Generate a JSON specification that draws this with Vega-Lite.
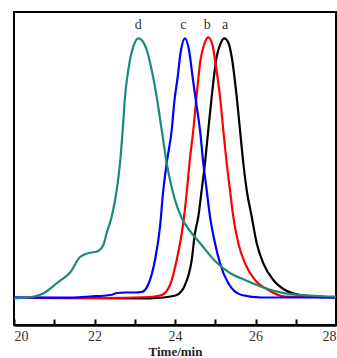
{
  "$schema": "https://vega.github.io/schema/vega-lite/v6.json",
  "width": 322,
  "height": 313,
  "autosize": "none",
  "padding": {"left": 14, "top": 12, "right": 1, "bottom": 33},
  "background": "white",
  "config": {"view": {"stroke": "black", "strokeWidth": 2}},
  "datasets": {
    "curves": [
      {"s": "a", "t": 20.000, "v": 27}, {"s": "a", "t": 23.379, "v": 26.7}, {"s": "a", "t": 23.702, "v": 27.5}, {"s": "a", "t": 24.042, "v": 30}, {"s": "a", "t": 24.248, "v": 40}, {"s": "a", "t": 24.415, "v": 65}, {"s": "a", "t": 24.497, "v": 92}, {"s": "a", "t": 24.579, "v": 108.3}, {"s": "a", "t": 24.663, "v": 135}, {"s": "a", "t": 24.745, "v": 162}, {"s": "a", "t": 24.827, "v": 195}, {"s": "a", "t": 24.912, "v": 228.3}, {"s": "a", "t": 25.036, "v": 268.3}, {"s": "a", "t": 25.118, "v": 280}, {"s": "a", "t": 25.225, "v": 286.7}, {"s": "a", "t": 25.329, "v": 282}, {"s": "a", "t": 25.408, "v": 268.3}, {"s": "a", "t": 25.533, "v": 228.3}, {"s": "a", "t": 25.615, "v": 195}, {"s": "a", "t": 25.697, "v": 162}, {"s": "a", "t": 25.781, "v": 135}, {"s": "a", "t": 25.906, "v": 108.3}, {"s": "a", "t": 26.030, "v": 81.7}, {"s": "a", "t": 26.194, "v": 61.7}, {"s": "a", "t": 26.442, "v": 45}, {"s": "a", "t": 26.733, "v": 35}, {"s": "a", "t": 27.106, "v": 30}, {"s": "a", "t": 27.603, "v": 28}, {"s": "a", "t": 28.000, "v": 27.5},
      {"s": "b", "t": 20.000, "v": 27}, {"s": "b", "t": 22.137, "v": 27}, {"s": "b", "t": 23.379, "v": 28}, {"s": "b", "t": 23.670, "v": 30}, {"s": "b", "t": 23.876, "v": 40}, {"s": "b", "t": 24.042, "v": 65}, {"s": "b", "t": 24.191, "v": 98}, {"s": "b", "t": 24.291, "v": 132}, {"s": "b", "t": 24.360, "v": 162}, {"s": "b", "t": 24.455, "v": 195}, {"s": "b", "t": 24.534, "v": 228.3}, {"s": "b", "t": 24.634, "v": 265}, {"s": "b", "t": 24.720, "v": 280}, {"s": "b", "t": 24.827, "v": 287.7}, {"s": "b", "t": 24.932, "v": 280}, {"s": "b", "t": 24.994, "v": 265}, {"s": "b", "t": 25.118, "v": 228.3}, {"s": "b", "t": 25.200, "v": 195}, {"s": "b", "t": 25.284, "v": 162}, {"s": "b", "t": 25.366, "v": 135}, {"s": "b", "t": 25.448, "v": 108.3}, {"s": "b", "t": 25.573, "v": 81.7}, {"s": "b", "t": 25.739, "v": 61.7}, {"s": "b", "t": 25.988, "v": 45}, {"s": "b", "t": 26.318, "v": 35}, {"s": "b", "t": 26.733, "v": 28.3}, {"s": "b", "t": 27.354, "v": 28}, {"s": "b", "t": 28.000, "v": 27.7},
      {"s": "c", "t": 20.000, "v": 27.7}, {"s": "c", "t": 21.242, "v": 27.3}, {"s": "c", "t": 21.888, "v": 28.5}, {"s": "c", "t": 22.402, "v": 30}, {"s": "c", "t": 22.559, "v": 32}, {"s": "c", "t": 22.758, "v": 32.5}, {"s": "c", "t": 23.006, "v": 32.5}, {"s": "c", "t": 23.173, "v": 33}, {"s": "c", "t": 23.329, "v": 40}, {"s": "c", "t": 23.503, "v": 65}, {"s": "c", "t": 23.627, "v": 98}, {"s": "c", "t": 23.702, "v": 132}, {"s": "c", "t": 23.794, "v": 162}, {"s": "c", "t": 23.918, "v": 195}, {"s": "c", "t": 23.988, "v": 225}, {"s": "c", "t": 24.057, "v": 245}, {"s": "c", "t": 24.149, "v": 275}, {"s": "c", "t": 24.248, "v": 286.7}, {"s": "c", "t": 24.348, "v": 275}, {"s": "c", "t": 24.447, "v": 245}, {"s": "c", "t": 24.534, "v": 220}, {"s": "c", "t": 24.621, "v": 195}, {"s": "c", "t": 24.703, "v": 162}, {"s": "c", "t": 24.787, "v": 135}, {"s": "c", "t": 24.870, "v": 108.3}, {"s": "c", "t": 24.994, "v": 81.7}, {"s": "c", "t": 25.118, "v": 61.7}, {"s": "c", "t": 25.324, "v": 41.7}, {"s": "c", "t": 25.657, "v": 30}, {"s": "c", "t": 26.154, "v": 27.5}, {"s": "c", "t": 27.106, "v": 27.5}, {"s": "c", "t": 28.000, "v": 27.5},
      {"s": "d", "t": 20.000, "v": 26.7}, {"s": "d", "t": 20.497, "v": 28.3}, {"s": "d", "t": 20.745, "v": 32}, {"s": "d", "t": 21.068, "v": 42}, {"s": "d", "t": 21.409, "v": 53.3}, {"s": "d", "t": 21.640, "v": 68}, {"s": "d", "t": 21.888, "v": 72.3}, {"s": "d", "t": 22.055, "v": 73.3}, {"s": "d", "t": 22.219, "v": 80}, {"s": "d", "t": 22.303, "v": 92}, {"s": "d", "t": 22.427, "v": 108.3}, {"s": "d", "t": 22.552, "v": 135}, {"s": "d", "t": 22.634, "v": 162}, {"s": "d", "t": 22.701, "v": 195}, {"s": "d", "t": 22.758, "v": 228.3}, {"s": "d", "t": 22.840, "v": 255}, {"s": "d", "t": 22.964, "v": 278.3}, {"s": "d", "t": 23.088, "v": 286.7}, {"s": "d", "t": 23.193, "v": 284}, {"s": "d", "t": 23.297, "v": 275}, {"s": "d", "t": 23.421, "v": 255}, {"s": "d", "t": 23.545, "v": 228.3}, {"s": "d", "t": 23.670, "v": 195}, {"s": "d", "t": 23.794, "v": 162}, {"s": "d", "t": 23.876, "v": 145}, {"s": "d", "t": 24.000, "v": 125}, {"s": "d", "t": 24.166, "v": 107}, {"s": "d", "t": 24.373, "v": 94}, {"s": "d", "t": 24.621, "v": 82}, {"s": "d", "t": 24.994, "v": 64}, {"s": "d", "t": 25.366, "v": 52}, {"s": "d", "t": 25.739, "v": 45}, {"s": "d", "t": 26.236, "v": 37}, {"s": "d", "t": 26.733, "v": 31.7}, {"s": "d", "t": 27.354, "v": 29.5}, {"s": "d", "t": 28.000, "v": 28.3}
    ],
    "labels": [
      {"s": "a", "t": 25.242, "v": 300},
      {"s": "b", "t": 24.802, "v": 300},
      {"s": "c", "t": 24.206, "v": 300},
      {"s": "d", "t": 23.088, "v": 300}
    ]
  },
  "layer": [
    {
      "data": {"name": "curves"},
      "mark": {"type": "line", "interpolate": "monotone", "strokeWidth": 2.2, "clip": true},
      "encoding": {
        "x": {
          "field": "t", "type": "quantitative",
          "scale": {"domain": [20, 28], "nice": false, "zero": false},
          "axis": {
            "title": "Time/min",
            "titleFont": "Liberation Serif", "titleFontSize": 13, "titleFontWeight": "bold", "titleColor": "#222",
            "titlePadding": 2,
            "values": [20, 20.5, 21, 21.5, 22, 22.5, 23, 23.5, 24, 24.5, 25, 25.5, 26, 26.5, 27, 27.5, 28],
            "labelExpr": "datum.value % 2 == 0 ? datum.label : ''",
            "labelFont": "Liberation Serif", "labelFontSize": 14, "labelColor": "#333",
            "labelPadding": 10, "labelFlush": true, "labelOverlap": false,
            "tickSize": {"condition": {"test": "datum.value % 1 == 0", "value": -6}, "value": -3},
            "tickColor": "black", "tickWidth": 2,
            "domainColor": "black", "domainWidth": 2.5,
            "grid": false
          }
        },
        "y": {
          "field": "v", "type": "quantitative",
          "scale": {"domain": [0, 313], "nice": false, "zero": false},
          "axis": null
        },
        "color": {
          "field": "s", "type": "nominal",
          "scale": {"domain": ["a", "b", "c", "d"], "range": ["#000000", "#ff0000", "#0000ff", "#1a8a7a"]},
          "legend": null
        }
      }
    },
    {
      "data": {"name": "labels"},
      "mark": {"type": "text", "font": "Liberation Serif", "fontSize": 14, "color": "#333", "baseline": "middle", "align": "center"},
      "encoding": {
        "x": {"field": "t", "type": "quantitative"},
        "y": {"field": "v", "type": "quantitative"},
        "text": {"field": "s"}
      }
    }
  ]
}
